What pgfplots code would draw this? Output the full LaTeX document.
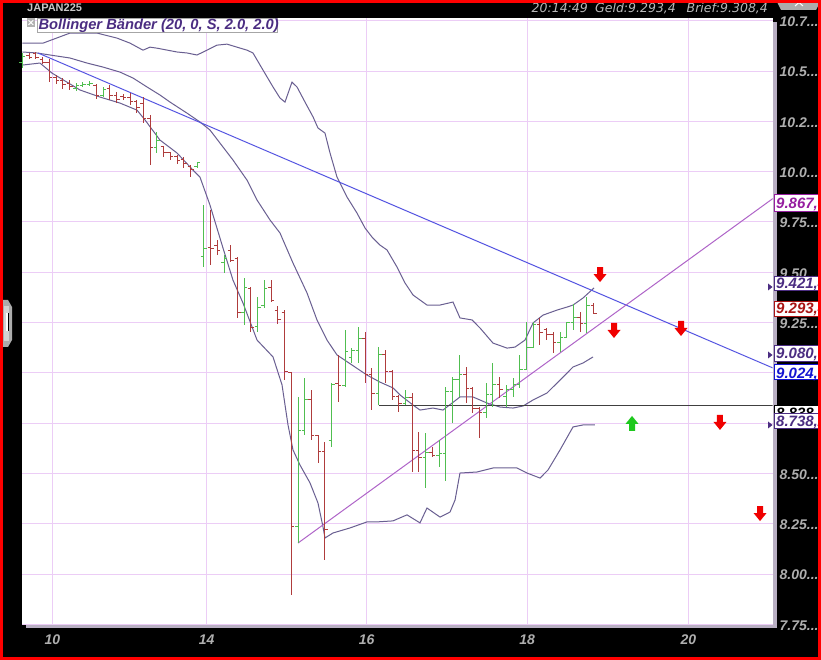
\documentclass[border=0pt]{standalone}
\usepackage{fontspec}
\setmainfont{Liberation Sans}
\newfontfamily\hdrfont{DejaVu Sans}
\usepackage{pgfplots}
\usepackage{pgfplotstable}
\pgfplotsset{compat=1.18}

\definecolor{barred}{RGB}{175,60,60}
\definecolor{bargreen}{RGB}{80,190,80}
\definecolor{bandcol}{RGB}{105,95,145}
\definecolor{gridcol}{RGB}{236,205,246}
\definecolor{lblgray}{RGB}{175,175,175}
\definecolor{indigo}{RGB}{75,45,130}
\definecolor{trendblue}{RGB}{85,85,225}
\definecolor{trendpurple}{RGB}{175,100,200}
\definecolor{boxpurple}{RGB}{150,30,160}
\definecolor{boxred}{RGB}{170,20,20}
\definecolor{boxblue}{RGB}{20,20,210}
\definecolor{shadowcol}{RGB}{185,175,195}
\definecolor{arrowred}{RGB}{240,0,0}
\definecolor{arrowgreen}{RGB}{30,200,30}

\pgfdeclareplotmark{otick}{\pgfpathmoveto{\pgfqpoint{-3pt}{0pt}}\pgfpathlineto{\pgfqpoint{0pt}{0pt}}\pgfusepathqstroke}
\pgfdeclareplotmark{ctick}{\pgfpathmoveto{\pgfqpoint{0pt}{0pt}}\pgfpathlineto{\pgfqpoint{3pt}{0pt}}\pgfusepathqstroke}
\pgfdeclareplotmark{dnarrow}{%
\pgfpathmoveto{\pgfqpoint{-3pt}{8pt}}\pgfpathlineto{\pgfqpoint{3pt}{8pt}}%
\pgfpathlineto{\pgfqpoint{3pt}{1pt}}\pgfpathlineto{\pgfqpoint{6.5pt}{1pt}}%
\pgfpathlineto{\pgfqpoint{0pt}{-7pt}}\pgfpathlineto{\pgfqpoint{-6.5pt}{1pt}}%
\pgfpathlineto{\pgfqpoint{-3pt}{1pt}}\pgfpathclose\pgfusepathqfill}
\pgfdeclareplotmark{uparrow}{%
\pgfpathmoveto{\pgfqpoint{-3pt}{-8pt}}\pgfpathlineto{\pgfqpoint{3pt}{-8pt}}%
\pgfpathlineto{\pgfqpoint{3pt}{-1pt}}\pgfpathlineto{\pgfqpoint{6.5pt}{-1pt}}%
\pgfpathlineto{\pgfqpoint{0pt}{7pt}}\pgfpathlineto{\pgfqpoint{-6.5pt}{-1pt}}%
\pgfpathlineto{\pgfqpoint{-3pt}{-1pt}}\pgfpathclose\pgfusepathqfill}

% OHLC bars, x = bar index
\pgfplotstableread{
i o h l c
0 10.545 10.590 10.515 10.575
8 10.415 10.440 10.400 10.430
9 10.430 10.445 10.420 10.435
10 10.435 10.450 10.425 10.440
12 10.380 10.420 10.370 10.410
20 10.120 10.195 10.095 10.155
26 10.025 10.050 10.020 10.045
27 9.580 9.835 9.525 9.620
30 9.550 9.585 9.495 9.570
33 9.300 9.470 9.240 9.425
35 9.230 9.375 9.205 9.325
36 9.335 9.460 9.320 9.420
41 8.235 8.880 8.155 8.715
42 8.715 8.975 8.690 8.865
46 8.665 8.950 8.630 8.940
48 8.935 9.215 8.930 9.105
49 9.075 9.125 9.050 9.110
50 9.110 9.230 9.050 9.170
53 8.895 9.130 8.838 9.090
57 8.850 8.915 8.840 8.875
60 8.580 8.700 8.430 8.605
62 8.590 8.665 8.530 8.600
63 8.600 8.930 8.460 8.905
64 8.905 8.980 8.750 8.965
65 8.965 9.090 8.880 8.990
69 8.805 8.950 8.775 8.890
70 8.890 9.050 8.830 8.940
72 8.880 8.940 8.830 8.915
73 8.915 8.975 8.880 8.940
74 8.940 9.090 8.925 9.015
75 9.015 9.255 9.015 9.125
76 9.125 9.255 9.125 9.240
80 9.150 9.205 9.105 9.175
81 9.175 9.255 9.175 9.250
82 9.250 9.340 9.215 9.275
84 9.245 9.375 9.200 9.335
}\upbars

\pgfplotstableread{
i o h l c
1 10.580 10.590 10.560 10.570
2 10.585 10.595 10.560 10.570
3 10.560 10.570 10.535 10.545
4 10.545 10.560 10.445 10.470
5 10.470 10.480 10.435 10.455
6 10.455 10.465 10.410 10.435
7 10.440 10.455 10.405 10.425
11 10.430 10.435 10.360 10.380
13 10.415 10.430 10.355 10.380
14 10.380 10.395 10.340 10.360
15 10.375 10.385 10.355 10.370
16 10.370 10.390 10.330 10.350
17 10.350 10.355 10.290 10.320
18 10.340 10.370 10.240 10.265
19 10.265 10.280 10.035 10.120
21 10.125 10.130 10.075 10.095
22 10.095 10.100 10.060 10.075
23 10.075 10.085 10.040 10.055
24 10.060 10.075 10.020 10.040
25 10.025 10.035 9.975 10.010
28 9.625 9.810 9.535 9.620
29 9.635 9.660 9.585 9.610
31 9.610 9.635 9.550 9.560
32 9.570 9.575 9.275 9.300
34 9.420 9.425 9.205 9.225
37 9.425 9.460 9.350 9.360
38 9.310 9.330 9.245 9.265
39 9.300 9.312 8.965 9.005
40 9.000 9.005 7.895 8.235
43 8.865 8.915 8.665 8.690
44 8.690 8.690 8.550 8.610
45 8.610 8.655 8.070 8.220
47 8.945 9.090 8.855 8.935
51 9.170 9.205 8.950 8.990
52 8.990 9.025 8.815 8.895
54 9.090 9.115 8.950 9.005
55 9.005 9.015 8.865 8.880
56 8.880 8.890 8.805 8.850
58 8.875 8.900 8.505 8.615
59 8.615 8.705 8.505 8.580
61 8.605 8.630 8.580 8.590
66 8.990 9.030 8.850 8.920
67 8.920 8.930 8.800 8.825
68 8.825 8.830 8.675 8.805
71 8.940 8.980 8.875 8.915
77 9.240 9.275 9.140 9.200
78 9.215 9.225 9.165 9.190
79 9.190 9.205 9.100 9.150
83 9.275 9.300 9.205 9.245
85 9.335 9.347 9.293 9.293
}\downbars

\pgfplotstableread{
x v
0 10.639
3.05 10.639
7.07 10.689
11.09 10.689
14.06 10.664
16.0 10.639
17.93 10.604
18.97 10.619
20.01 10.614
22.99 10.595
24.48 10.590
25.97 10.580
27.46 10.604
28.94 10.629
30.43 10.634
31.92 10.619
33.41 10.604
34.30 10.590
35.79 10.505
37.28 10.421
38.32 10.366
39.06 10.346
40.10 10.445
40.85 10.421
42.04 10.346
43.24 10.272
43.97 10.217
45.01 10.192
45.76 10.093
46.80 9.973
48.29 9.874
49.78 9.794
50.97 9.720
52.01 9.675
53.20 9.635
54.24 9.611
55.73 9.526
56.92 9.447
58.11 9.387
60.19 9.337
62.13 9.337
64.06 9.352
65.10 9.273
66.89 9.263
68.08 9.223
70.01 9.148
72.10 9.123
73.29 9.128
74.78 9.163
75.97 9.248
77.46 9.287
79.54 9.312
81.03 9.327
81.92 9.337
83.41 9.372
85.04 9.422
}\upperband

\pgfplotstableread{
x v
0 10.595
2.16 10.590
4.09 10.580
7.07 10.565
9.60 10.540
11.98 10.520
14.51 10.495
16.47 10.465
18.53 10.421
20.46 10.381
21.95 10.346
24.48 10.291
26.41 10.247
27.90 10.207
29.39 10.142
31.32 10.058
33.41 9.958
34.90 9.859
36.83 9.760
38.32 9.695
40.25 9.546
42.34 9.397
43.82 9.263
45.31 9.163
46.80 9.089
49.03 9.039
51.26 8.989
53.20 8.954
55.13 8.925
56.18 8.890
58.11 8.840
59.15 8.815
61.09 8.825
62.57 8.815
65.10 8.880
67.04 8.880
69.12 8.850
71.06 8.830
72.99 8.825
74.48 8.835
75.97 8.865
78.05 8.900
79.99 8.964
81.92 9.029
83.41 9.049
84.90 9.079
}\midband

\pgfplotstableread{
x v
0 10.530
2.60 10.540
4.39 10.490
8.56 10.406
11.53 10.371
14.51 10.341
17.04 10.306
18.23 10.257
20.46 10.157
22.99 10.093
25.37 10.008
26.41 9.973
27.90 9.834
29.84 9.620
31.32 9.461
32.81 9.347
34.90 9.163
37.28 9.079
38.62 8.940
39.51 8.741
40.25 8.617
41.29 8.542
42.78 8.453
43.97 8.353
44.72 8.234
45.01 8.179
46.21 8.204
48.74 8.229
51.26 8.259
52.75 8.259
55.13 8.264
57.22 8.294
59.15 8.254
60.19 8.328
62.13 8.283
63.62 8.308
64.37 8.368
65.10 8.502
67.63 8.507
70.01 8.527
73.59 8.527
75.07 8.502
77.01 8.477
78.20 8.517
79.99 8.617
81.92 8.731
83.41 8.741
85.19 8.741
}\lowerband

\newcommand{\lblfont}{\fontsize{14}{16}\selectfont\bfseries\itshape}
\newcommand{\ddd}{...}
\newcommand{\valbox}[5]{%
    \draw[#4, fill=white, line width=1pt] (774.5,#1) rectangle (840,#2);
    \node[anchor=base west, inner sep=0pt, text=#4, font=\fontsize{15}{16}\selectfont\bfseries\itshape] at (776,#5) {#3};}

\begin{document}
\begin{tikzpicture}
\useasboundingbox (0,0) rectangle (821pt,660pt);
\fill[black] (0,0) rectangle (821pt,660pt);
\begin{scope}[shift={(0pt,660pt)}, x=1pt, y=-1pt]
  \fill[shadowcol] (26,22) rectangle (776.5,628.5);
  % left tab
  \fill[gray!65] (3,300) -- (8,300) -- (12,307) -- (12,340) -- (8,347) -- (3,347) -- cycle;
  \fill[gray!35] (4,306) rectangle (9,341);
  \fill[white] (5.5,313) rectangle (7.5,331);
  \draw[black, line width=0.6pt] (8.3,313) -- (8.3,331);
\end{scope}

\begin{axis}[
  at={(22pt,35.5pt)}, anchor=south west,
  scale only axis, width=750.5pt, height=606.5pt,
  xmin=-0.074, xmax=111.607, ymin=7.749, ymax=10.764,
  axis background/.style={fill=white},
  axis line style={draw=none},
  tick style={draw=none}, major tick length=0pt,
  grid=major, major grid style={gridcol, line width=1pt},
  xtick={4.45,27.4,51.2,75.1,99.1},
  xticklabels={10,14,16,18,20},
  ytick={7.75,8.00,8.25,8.50,8.75,9.00,9.25,9.50,9.75,10.00,10.25,10.50,10.75},
  yticklabels={7.75\ddd,8.00\ddd,8.25\ddd,8.50\ddd,{},{},9.25\ddd,9.50\ddd,9.75\ddd,10.0\ddd,10.2\ddd,10.5\ddd,10.7\ddd},
  yticklabel pos=right,
  ticklabel style={font=\lblfont, text=lblgray},
  yticklabel style={anchor=west, inner sep=0pt, xshift=7pt, yshift=-1pt},
  xticklabel style={anchor=north, inner sep=0pt, yshift=-10pt},
  clip=true,
]
% Bollinger bands
\addplot[bandcol, line width=1pt, forget plot] table[x=x,y=v] {\upperband};
\addplot[bandcol, line width=1pt, forget plot] table[x=x,y=v] {\midband};
\addplot[bandcol, line width=1pt, forget plot] table[x=x,y=v] {\lowerband};
% trend lines
\addplot[trendblue, line width=1pt, forget plot] coordinates {(2.31,10.590) (111.68,9.024)};
\addplot[trendpurple, line width=1pt, forget plot] coordinates {(41.0,8.154) (111.68,9.867)};
\addplot[black!75, line width=1pt, forget plot] coordinates {(53,8.838) (111.68,8.838)};
% OHLC up bars
\addplot[bargreen, only marks, mark=otick, mark options={line width=1pt}, forget plot,
  error bars/.cd, y dir=both, y explicit, error mark=none,
  error bar style={bargreen, line width=1pt}]
  table[x=i, y=o, y error plus expr=\thisrow{h}-\thisrow{o}, y error minus expr=\thisrow{o}-\thisrow{l}] {\upbars};
\addplot[bargreen, only marks, mark=ctick, mark options={line width=1pt}, forget plot]
  table[x=i, y=c] {\upbars};
% OHLC down bars
\addplot[barred, only marks, mark=otick, mark options={line width=1pt}, forget plot,
  error bars/.cd, y dir=both, y explicit, error mark=none,
  error bar style={barred, line width=1pt}]
  table[x=i, y=o, y error plus expr=\thisrow{h}-\thisrow{o}, y error minus expr=\thisrow{o}-\thisrow{l}] {\downbars};
\addplot[barred, only marks, mark=ctick, mark options={line width=1pt}, forget plot]
  table[x=i, y=c] {\downbars};
% signal arrows
\addplot[arrowred, only marks, mark=dnarrow, forget plot] coordinates {
  (85.94,9.486) (88.02,9.208) (97.99,9.218) (103.79,8.751) (109.75,8.298)};
\addplot[arrowgreen, only marks, mark=uparrow, forget plot] coordinates {(90.7,8.751)};
\end{axis}

\begin{scope}[shift={(0pt,660pt)}, x=1pt, y=-1pt]
  % legend box
  \draw[fill=white, draw=gray!70] (36.7,18.5) rectangle (276.7,32.5);
  \node[anchor=base west, inner sep=0pt, text=indigo, font=\fontsize{14.7}{16}\selectfont\bfseries\itshape]
    at (38.3,29.3) {Bollinger Bänder (20, 0, S, 2.0, 2.0)};
  \fill[gray!60] (26.7,18.5) rectangle (35,26.7);
  \draw[white, line width=1pt] (28.5,20.3) -- (33.2,24.9) (28.5,24.9) -- (33.2,20.3);
  % value boxes
  \valbox{195}{211.5}{9.867,3}{boxpurple}{209}
  \valbox{276.5}{291}{9.421,4}{indigo}{289}
  \valbox{301.5}{316.5}{9.293,4}{boxred}{314}
  \valbox{346}{361.5}{9.080,1}{indigo}{359}
  \valbox{364.5}{380}{9.024,6}{boxblue}{379}
  \valbox{406}{421}{8.838,1}{black}{418.5}
  \valbox{413.5}{429}{8.738,2}{indigo}{427}
  \fill[indigo] (768,283.5) -- (772.5,287) -- (768,290.5) -- cycle;
  \fill[indigo] (768,351.5) -- (772.5,355) -- (768,358.5) -- cycle;
  \fill[indigo] (768,421.5) -- (772.5,425) -- (768,428.5) -- cycle;
  % header
  \node[anchor=base west, inner sep=0pt, text=black!22, font=\fontsize{11}{12}\selectfont\bfseries] at (27,12) {JAPAN225};
  \node[anchor=base west, inner sep=0pt, text=black!28, font=\hdrfont\fontsize{12.5}{13}\selectfont\itshape] at (531.5,12.5) {20:14:49};
  \node[anchor=base west, inner sep=0pt, text=black!28, font=\hdrfont\fontsize{12.5}{13}\selectfont\itshape] at (595,12.5) {Geld:9.293,4};
  \node[anchor=base west, inner sep=0pt, text=black!28, font=\hdrfont\fontsize{12.5}{13}\selectfont\itshape] at (686.5,12.5) {Brief:9.308,4};
  % top-right tab
  \fill[gray!65] (776,0) -- (821,0) -- (816,10) -- (781,10) -- cycle;
  \draw[white, line width=1pt] (795,6) -- (799,2.5) -- (803,6);
  % red frame
  \draw[red, line width=3pt] (1.5,1.5) rectangle (819.5,658.5);
\end{scope}
\end{tikzpicture}
\end{document}
